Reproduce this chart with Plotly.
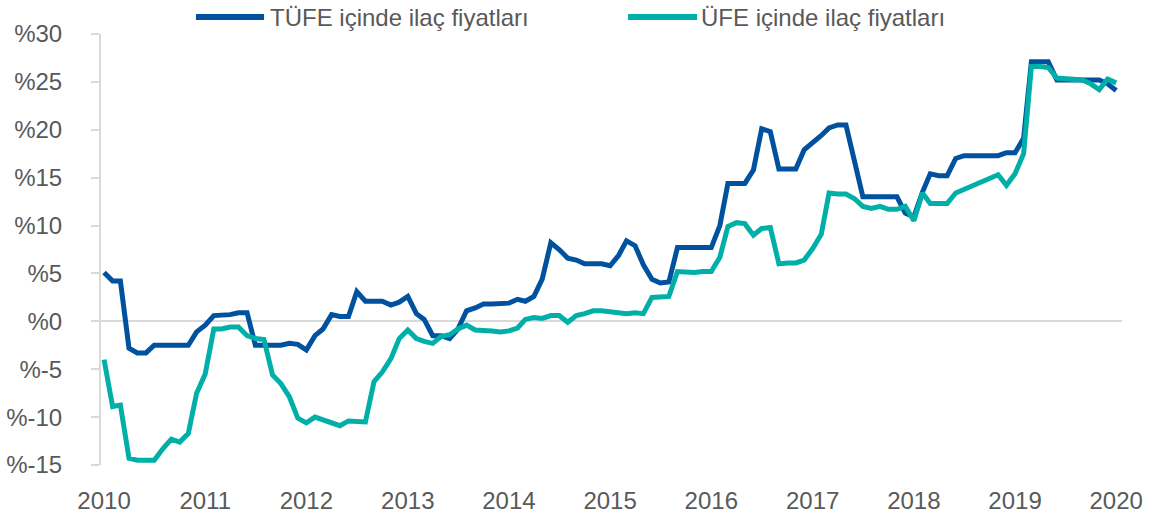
import pandas as pd
import plotly.graph_objects as go

months = pd.date_range("2010-01-01", "2020-01-01", freq="MS")

tufe_ilac = [
    5.1, 4.2, 4.2, -2.8, -3.3, -3.3, -2.5, -2.5, -2.5, -2.5, -2.5, -1.1,
    -0.4, 0.6, 0.6, 0.7, 0.9, 0.9, -2.5, -2.5, -2.5, -2.5, -2.3, -2.4,
    -3.0, -1.5, -0.8, 0.7, 0.5, 0.5, 3.1, 2.1, 2.1, 2.1, 1.7, 2.0,
    2.6, 0.8, 0.2, -1.5, -1.5, -1.8, -0.8, 1.1, 1.4, 1.8, 1.8, 1.8,
    1.9, 2.3, 2.1, 2.6, 4.4, 8.2, 7.5, 6.6, 6.4, 6.0, 6.0, 6.0,
    5.8, 6.9, 8.4, 7.9, 5.9, 4.4, 4.0, 4.1, 7.7, 7.7, 7.7, 7.7,
    7.7, 10.0, 14.4, 14.4, 14.4, 15.8, 20.1, 19.8, 15.9, 15.9, 15.9, 17.9,
    18.6, 19.4, 20.2, 20.5, 20.5, 16.8, 13.0, 13.0, 13.0, 13.0, 13.0, 11.3,
    10.9, 13.5, 15.4, 15.2, 15.2, 17.0, 17.3, 17.3, 17.3, 17.3, 17.3, 17.6,
    17.6, 19.1, 27.1, 27.1, 27.1, 25.2, 25.2, 25.2, 25.2, 25.2, 25.2, 24.8,
    24.1,
]

ufe_ilac = [
    -4.0, -8.9, -8.75, -14.3, -14.5, -14.5, -14.5, -13.3, -12.3, -12.6, -11.7, -7.5,
    -5.5, -0.8, -0.8, -0.6, -0.6, -1.5, -1.8, -1.9, -5.6, -6.5, -7.9, -10.1,
    -10.6, -10.0, -10.3, -10.6, -10.9, -10.4, -10.5, -10.5, -6.3, -5.3, -3.9, -1.8,
    -0.9, -1.8, -2.1, -2.3, -1.6, -1.4, -0.8, -0.4, -0.9, -0.9, -1.0, -1.1,
    -1.0, -0.7, 0.2, 0.4, 0.3, 0.6, 0.6, -0.1, 0.6, 0.8, 1.1, 1.1,
    1.0, 0.8, 0.8, 0.9, 0.8, 2.5, 2.6, 2.6, 5.2, 5.1, 5.1, 5.2,
    5.2, 6.7, 9.9, 10.3, 10.2, 9.0, 9.7, 9.8, 6.0, 6.1, 6.1, 6.4,
    7.6, 9.1, 13.4, 13.3, 13.3, 12.8, 12.0, 11.8, 12.0, 11.7, 11.7, 12.0,
    10.5, 13.4, 12.3, 12.3, 12.3, 13.4, 13.8, 14.2, 14.5, 14.9, 15.3, 14.2,
    15.4, 17.5, 26.6, 26.6, 26.5, 25.4, 25.3, 25.3, 25.2, 24.8, 24.2, 25.3,
    24.9,
]

series_names = ["TÜFE içinde ilaç fiyatları", "ÜFE içinde ilaç fiyatları"]
series_colors = ["#00519E", "#00B0A8"]

y_ticks = [-15, -10, -5, 0, 5, 10, 15, 20, 25, 30]
y_ticktext = ["%" + str(v) for v in y_ticks]
x_ticks = pd.date_range("2010-01-01", "2020-01-01", freq="YS")
x_ticktext = [str(d.year) for d in x_ticks]

FONT = "Liberation Sans, Arial, sans-serif"
TXT = "#595959"

fig = go.Figure()
for vals, name, col in zip([tufe_ilac, ufe_ilac], series_names, series_colors):
    fig.add_trace(go.Scatter(
        x=months, y=vals, name=name, mode="lines",
        line=dict(color=col, width=5),
        showlegend=False,
    ))

# custom legend (paper coordinates)
legend_items = [(0.093, 0.1597, 0.1636), (0.5162, 0.5838, 0.5857)]
for (x0, x1, xt), name, col in zip(legend_items, series_names, series_colors):
    fig.add_shape(type="line", xref="paper", yref="paper", x0=x0, x1=x1,
                  y0=1.0394, y1=1.0394, line=dict(color=col, width=6))
    fig.add_annotation(xref="paper", yref="paper", x=xt, y=1.0394,
                       text=name, showarrow=False, xanchor="left",
                       yanchor="middle", font=dict(size=24, color=TXT, family=FONT))

fig.update_layout(
    width=1157, height=513,
    margin=dict(l=101, r=35, t=34, b=48, autoexpand=False),
    paper_bgcolor="white", plot_bgcolor="white",
    font=dict(family=FONT, size=24, color=TXT),
)
fig.update_xaxes(
    range=["2009-12-21", "2020-01-22"],
    tickvals=x_ticks, ticktext=x_ticktext,
    showgrid=False, zeroline=False, showline=False, ticks="",
    ticklabelstandoff=19, automargin=False,
    tickfont=dict(size=24, color=TXT, family=FONT),
)
fig.update_yaxes(
    range=[-15, 30],
    tickvals=y_ticks, ticktext=y_ticktext,
    showgrid=False,
    zeroline=True, zerolinecolor="#D9D9D9", zerolinewidth=2,
    showline=True, linecolor="#D9D9D9", linewidth=2,
    ticks="outside", ticklen=8, tickcolor="#D9D9D9", tickwidth=2,
    ticklabelstandoff=24, automargin=False,
    tickfont=dict(size=24, color=TXT, family=FONT),
)

fig.write_html("out.html", config={"displayModeBar": False},
               post_script="document.body.style.margin='0px';")
